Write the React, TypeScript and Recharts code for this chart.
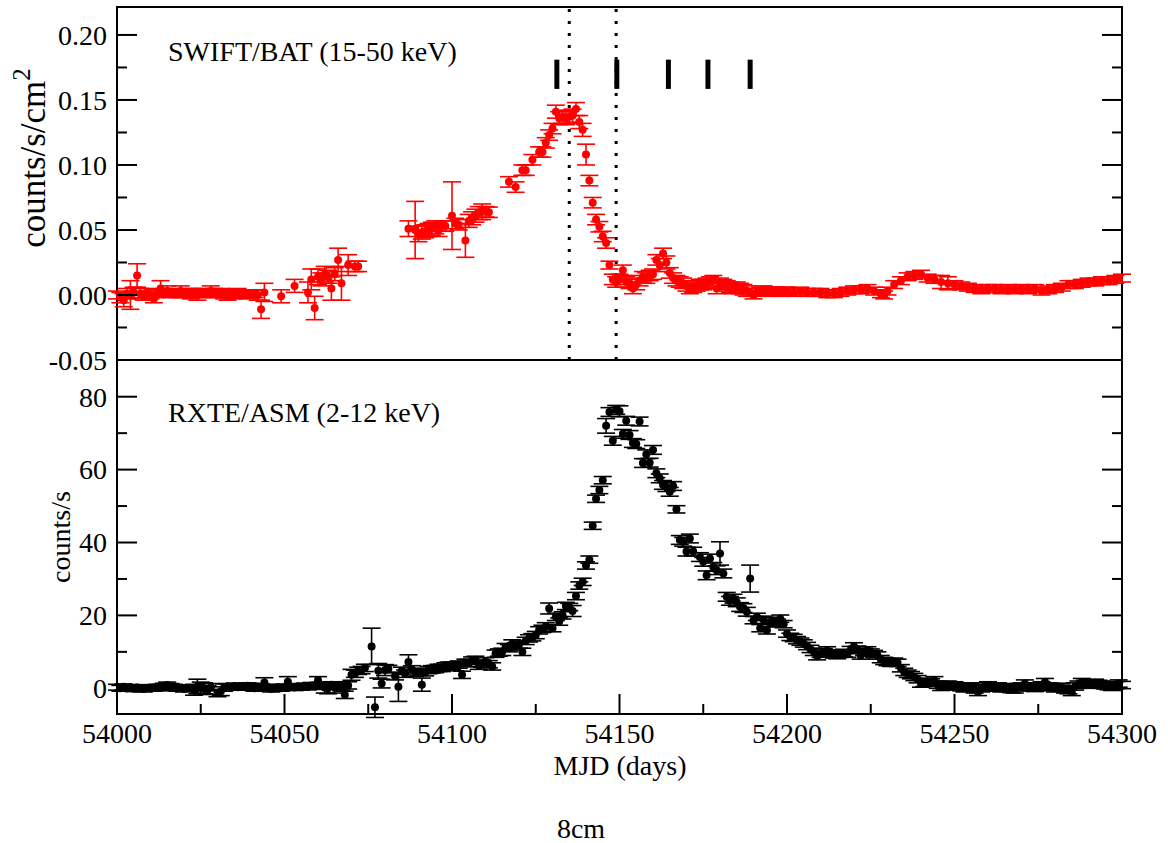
import React from 'react';
import { ScatterChart, Scatter, XAxis, YAxis, ErrorBar, ReferenceLine, ReferenceArea } from 'recharts';

type Pt = [number, number, number];

// ---------- SWIFT/BAT (15-50 keV): [MJD, counts/s/cm^2, error] ----------
const batQuiet: Pt[] = [
  [54000, 0.0, 0.003], [54001, -0.002, 0.004], [54002, -0.004, 0.005], [54003, 0.001, 0.004],
  [54004, 0.0, 0.011], [54005, 0.002, 0.004], [54006, 0.015, 0.009], [54007, 0.001, 0.004],
  [54008, -0.001, 0.003], [54009, 0.002, 0.003], [54010, 0.0, 0.003], [54011, -0.003, 0.003],
  [54012, 0.001, 0.003], [54013, 0.005, 0.006], [54014, 0.002, 0.003], [54015, 0.003, 0.004],
  [54016, 0.001, 0.003], [54017, 0.002, 0.003], [54018, 0.001, 0.003], [54019, 0.003, 0.004],
  [54020, 0.001, 0.003], [54021, 0.002, 0.003], [54022, 0.0, 0.003], [54023, 0.002, 0.003],
  [54024, 0.0, 0.004], [54025, 0.001, 0.003], [54026, 0.002, 0.003], [54027, 0.001, 0.003],
  [54028, 0.003, 0.004], [54029, 0.002, 0.003], [54030, 0.001, 0.003], [54031, 0.002, 0.003],
  [54032, 0.0, 0.003], [54033, -0.001, 0.003], [54034, 0.001, 0.003], [54035, 0.0, 0.003],
  [54036, 0.002, 0.003], [54037, 0.001, 0.003], [54038, 0.001, 0.003], [54039, 0.0, 0.003],
  [54040, 0.001, 0.003], [54041, 0.001, 0.003], [54042, 0.0, 0.004], [54043, -0.011, 0.007],
  [54044, 0.002, 0.007],
];
const batPreFlare: Pt[] = [
  [54049, -0.001, 0.005], [54053, 0.007, 0.005], [54057, 0.002, 0.008], [54058, 0.012, 0.008],
  [54059, -0.010, 0.009], [54060, 0.014, 0.006], [54061, 0.012, 0.005], [54062, 0.016, 0.006],
  [54063, 0.014, 0.005], [54064, 0.005, 0.009], [54065, 0.016, 0.005], [54066, 0.027, 0.009],
  [54067, 0.009, 0.013], [54069, 0.023, 0.008], [54071, 0.022, 0.004], [54072, 0.022, 0.004],
];
const batPlateau: Pt[] = [
  [54087, 0.051, 0.006], [54089, 0.050, 0.022], [54090, 0.047, 0.006], [54091, 0.048, 0.005],
  [54092, 0.049, 0.005], [54093, 0.050, 0.005], [54094, 0.051, 0.005], [54095, 0.052, 0.005],
  [54096, 0.050, 0.005], [54097, 0.053, 0.004], [54098, 0.053, 0.004], [54100, 0.061, 0.026],
  [54101, 0.055, 0.004], [54102, 0.054, 0.004], [54104, 0.042, 0.013], [54105, 0.057, 0.005],
  [54106, 0.059, 0.005], [54107, 0.061, 0.005], [54108, 0.063, 0.005], [54109, 0.064, 0.006],
  [54110, 0.064, 0.004], [54111, 0.0636, 0.004],
];
const batFlare: Pt[] = [
  [54117, 0.087, 0.004], [54119, 0.083, 0.004], [54121, 0.096, 0.004], [54122, 0.096, 0.004],
  [54124, 0.104, 0.004], [54126, 0.110, 0.004], [54127, 0.110, 0.004], [54128, 0.117, 0.004],
  [54129, 0.123, 0.004], [54130, 0.128, 0.004], [54131, 0.141, 0.005], [54132, 0.136, 0.005],
  [54133, 0.137, 0.005], [54134, 0.136, 0.005], [54135, 0.137, 0.005], [54136, 0.138, 0.005],
  [54137, 0.143, 0.005], [54138, 0.133, 0.005], [54139, 0.127, 0.005], [54140, 0.108, 0.008],
  [54141, 0.088, 0.004], [54142, 0.071, 0.004], [54143, 0.058, 0.004], [54144, 0.0525, 0.004],
  [54145, 0.045, 0.004], [54146, 0.040, 0.004], [54147, 0.023, 0.003], [54148, 0.012, 0.004],
  [54149, 0.010, 0.004], [54150, 0.012, 0.004], [54151, 0.019, 0.004], [54152, 0.010, 0.004],
  [54153, 0.009, 0.004], [54154, 0.005, 0.004], [54155, 0.008, 0.004], [54156, 0.011, 0.004],
  [54157, 0.014, 0.004], [54158, 0.013, 0.004], [54159, 0.015, 0.004], [54160, 0.016, 0.004],
  [54161, 0.027, 0.004], [54162, 0.023, 0.005], [54163, 0.032, 0.004], [54164, 0.025, 0.005],
  [54165, 0.017, 0.004],
];
const batTail: Pt[] = [
  [54166, 0.013, 0.004], [54167, 0.011, 0.004], [54168, 0.010, 0.004], [54169, 0.009, 0.004],
  [54170, 0.007, 0.004], [54171, 0.005, 0.004], [54172, 0.006, 0.004], [54173, 0.007, 0.004],
  [54174, 0.008, 0.004], [54175, 0.008, 0.004], [54176, 0.009, 0.004], [54177, 0.010, 0.004],
  [54178, 0.011, 0.004], [54179, 0.005, 0.004], [54180, 0.009, 0.004], [54181, 0.008, 0.004],
  [54182, 0.007, 0.004], [54183, 0.006, 0.004], [54184, 0.005, 0.004], [54185, 0.006, 0.004],
  [54186, 0.005, 0.004], [54187, 0.004, 0.004], [54188, 0.003, 0.004], [54189, 0.002, 0.003],
  [54190, 0.0, 0.003], [54191, 0.002, 0.003], [54192, 0.003, 0.003], [54193, 0.004, 0.003],
  [54194, 0.003, 0.003], [54195, 0.003, 0.003], [54196, 0.002, 0.003], [54197, 0.003, 0.003],
  [54198, 0.002, 0.003], [54199, 0.003, 0.003], [54200, 0.003, 0.003], [54202, 0.002, 0.003],
  [54204, 0.003, 0.003], [54206, 0.002, 0.003], [54208, 0.002, 0.003], [54210, 0.002, 0.003],
  [54212, 0.001, 0.003], [54214, 0.001, 0.003], [54216, 0.002, 0.003], [54218, 0.003, 0.003],
  [54220, 0.004, 0.003], [54222, 0.004, 0.003], [54224, 0.005, 0.003], [54226, 0.003, 0.003],
  [54228, 0.001, 0.003], [54229, 0.0, 0.003], [54230, 0.003, 0.003], [54232, 0.008, 0.003],
  [54234, 0.011, 0.003], [54236, 0.014, 0.003], [54238, 0.015, 0.003], [54240, 0.016, 0.003],
  [54242, 0.013, 0.003], [54244, 0.012, 0.003], [54246, 0.010, 0.005], [54248, 0.009, 0.005],
  [54250, 0.008, 0.003], [54252, 0.007, 0.003], [54254, 0.006, 0.003], [54256, 0.005, 0.003],
  [54258, 0.004, 0.003], [54260, 0.005, 0.003], [54262, 0.005, 0.003], [54264, 0.004, 0.003],
  [54266, 0.005, 0.003], [54268, 0.004, 0.003], [54270, 0.005, 0.003], [54272, 0.004, 0.003],
  [54274, 0.005, 0.003], [54276, 0.003, 0.003], [54278, 0.004, 0.003], [54280, 0.005, 0.003],
  [54282, 0.006, 0.003], [54284, 0.008, 0.003], [54286, 0.008, 0.003], [54288, 0.009, 0.003],
  [54290, 0.010, 0.003], [54292, 0.010, 0.003], [54294, 0.011, 0.003], [54296, 0.011, 0.003],
  [54298, 0.012, 0.003], [54300, 0.013, 0.003],
];

// ---------- RXTE/ASM (2-12 keV): [MJD, counts/s, error] ----------
const asmQuiet: Pt[] = [
  [54000, 0.3, 0.8], [54001, 0.0, 0.8], [54002, 0.4, 0.8], [54003, 0.0, 0.8], [54004, 0.2, 0.8],
  [54005, -0.1, 0.8], [54006, 0.2, 0.8], [54007, 0.0, 0.8], [54008, -0.2, 0.8], [54009, 0.1, 0.8],
  [54010, 0.0, 0.8], [54011, 0.2, 0.8], [54012, 0.3, 0.8], [54013, 0.1, 0.8], [54014, 0.6, 0.8],
  [54015, 0.9, 0.8], [54016, 0.5, 0.8], [54017, 0.3, 0.8], [54018, 0.0, 0.8], [54019, 0.1, 0.8],
  [54020, -0.2, 0.8], [54021, 0.1, 0.8], [54022, 0.0, 0.8], [54023, -0.4, 1.5], [54024, 0.5, 2.0],
  [54025, 0.2, 1.5], [54026, 0.0, 1.5], [54027, -0.5, 1.2], [54028, 0.3, 1.0], [54030, -1.3, 1.0],
  [54031, -0.8, 1.2], [54032, 0.2, 1.0], [54033, 0.5, 0.8], [54034, 0.4, 0.8], [54035, 0.6, 0.8],
  [54036, 0.3, 0.8], [54037, 0.4, 0.8], [54038, 0.6, 0.8], [54039, 0.7, 0.8], [54040, 0.3, 0.8],
  [54041, 0.0, 0.8], [54042, 0.5, 0.8], [54043, 0.4, 0.8], [54044, 1.6, 1.3], [54045, 0.2, 0.8],
  [54046, -0.2, 0.8], [54047, 0.0, 0.8], [54048, 0.3, 0.8], [54049, 0.0, 0.8], [54050, 0.3, 0.8],
  [54051, 1.8, 1.4], [54052, 0.4, 0.8], [54053, 0.2, 0.8], [54054, 0.5, 0.8], [54055, 0.3, 0.8],
  [54056, 0.6, 0.8], [54057, 0.4, 0.8], [54058, 0.8, 0.8], [54059, 0.5, 0.8], [54060, 2.2, 1.0],
  [54061, 0.9, 0.8], [54062, 0.2, 1.5], [54063, 0.0, 1.5], [54064, 1.0, 0.8], [54065, 0.2, 1.5],
  [54066, 0.6, 0.8], [54067, 0.5, 1.2], [54068, -1.8, 1.0], [54069, 0.8, 1.0],
];
const asmRise: Pt[] = [
  [54070, 3.7, 1.5], [54071, 4.0, 1.0], [54072, 4.8, 1.0], [54073, 5.0, 1.0], [54074, 5.6, 1.0],
  [54076, 11.5, 5.0], [54077, -5.2, 2.8], [54078, 4.8, 2.0], [54079, 1.3, 1.2], [54080, 5.0, 1.5],
  [54081, 5.3, 1.0], [54083, 3.3, 1.0], [54084, 0.4, 4.0], [54085, 4.8, 1.0], [54086, 4.0, 1.0],
  [54087, 7.2, 2.0], [54088, 5.2, 1.0], [54089, 4.2, 1.0], [54090, 4.5, 1.0], [54091, 1.0, 1.8],
  [54092, 4.4, 1.0], [54093, 5.0, 1.0], [54094, 5.2, 1.0], [54095, 5.3, 1.0], [54096, 5.6, 1.0],
  [54097, 5.6, 1.0], [54098, 6.0, 1.0], [54099, 6.2, 1.0], [54100, 6.2, 1.0], [54101, 5.8, 1.0],
  [54102, 6.5, 1.0], [54103, 3.7, 1.0], [54104, 7.0, 1.0], [54105, 6.9, 1.0], [54106, 7.6, 1.0],
  [54107, 7.8, 1.0], [54108, 6.2, 1.0], [54109, 6.8, 1.0], [54110, 7.4, 1.0], [54111, 6.6, 1.0],
  [54112, 6.0, 1.0], [54113, 9.5, 1.0], [54114, 9.8, 1.0], [54115, 10.0, 1.0], [54116, 11.3, 1.0],
  [54117, 11.0, 1.0], [54118, 12.3, 1.0], [54119, 11.5, 1.0], [54120, 12.0, 1.0], [54121, 10.0, 1.0],
  [54122, 13.0, 1.0], [54123, 13.7, 1.0], [54124, 14.0, 1.0], [54125, 14.6, 1.0], [54126, 15.9, 1.0],
  [54127, 16.3, 1.0], [54128, 17.0, 1.0], [54129, 21.9, 1.5], [54130, 16.5, 1.0], [54131, 19.6, 1.0],
  [54132, 18.3, 1.0], [54133, 20.0, 1.0], [54134, 22.6, 1.0], [54135, 22.3, 1.0], [54136, 21.2, 1.5],
  [54137, 25.3, 1.0], [54138, 28.2, 1.0], [54139, 29.2, 1.0], [54140, 33.7, 1.0], [54141, 35.3, 1.0],
  [54142, 44.6, 1.0], [54143, 52.0, 1.0], [54144, 54.4, 1.0], [54145, 57.1, 1.0],
];
const asmPeak: Pt[] = [
  [54146, 72.0, 2.0], [54147, 75.8, 1.2], [54148, 67.9, 1.2], [54149, 76.4, 1.2], [54150, 76.0, 1.5],
  [54151, 69.8, 1.2], [54152, 73.4, 1.2], [54153, 69.5, 1.2], [54154, 67.3, 1.2], [54155, 67.0, 1.2],
  [54156, 73.2, 1.2], [54157, 61.8, 1.2], [54158, 64.2, 1.2], [54159, 61.9, 1.2], [54160, 65.4, 1.2],
  [54161, 59.0, 1.2], [54162, 57.6, 1.2], [54163, 55.8, 1.2], [54164, 55.2, 1.2], [54165, 53.9, 1.2],
  [54166, 55.5, 1.2], [54167, 49.1, 1.0], [54168, 40.7, 1.2], [54169, 40.2, 1.2], [54170, 37.5, 1.2],
  [54171, 41.1, 1.2], [54172, 37.5, 1.2], [54174, 36.0, 1.2], [54175, 34.7, 1.2], [54176, 31.0, 1.2],
  [54177, 35.6, 1.2], [54178, 33.3, 1.2], [54179, 32.4, 1.2], [54180, 37.0, 3.2], [54181, 31.5, 1.2],
  [54182, 25.1, 1.2], [54183, 24.0, 1.2], [54184, 24.6, 1.2], [54185, 23.6, 1.2], [54186, 22.3, 1.2],
  [54187, 22.0, 1.2], [54188, 21.0, 1.2], [54189, 30.1, 3.7],
];
const asmDecay: Pt[] = [
  [54190, 18.7, 1.0], [54191, 19.6, 1.0], [54192, 16.5, 1.0], [54193, 18.8, 1.0], [54194, 15.9, 1.0],
  [54195, 17.9, 1.0], [54196, 18.5, 1.0], [54197, 18.0, 1.0], [54198, 19.1, 1.0], [54199, 17.6, 1.0],
  [54200, 15.0, 1.0], [54201, 14.1, 1.0], [54202, 13.8, 1.0], [54203, 13.2, 1.0], [54204, 12.8, 1.0],
  [54205, 12.3, 1.0], [54206, 11.6, 1.0], [54207, 10.8, 1.0], [54208, 10.0, 1.0], [54209, 8.8, 1.0],
  [54210, 9.5, 1.0], [54211, 9.9, 1.0], [54212, 10.4, 1.0], [54213, 9.6, 1.0], [54214, 9.3, 1.0],
  [54215, 9.1, 1.0], [54216, 9.5, 1.0], [54217, 9.7, 1.0], [54218, 9.5, 1.0], [54219, 10.5, 1.0],
  [54220, 11.5, 1.0], [54221, 10.6, 1.0], [54222, 9.0, 1.0], [54223, 10.0, 1.0], [54224, 10.4, 1.0],
  [54225, 9.8, 1.0], [54226, 9.4, 1.0], [54227, 9.0, 1.0], [54228, 8.0, 1.0], [54229, 7.5, 1.0],
  [54230, 7.2, 1.0], [54231, 7.0, 1.0], [54232, 7.3, 1.0], [54233, 7.0, 1.0], [54234, 5.5, 1.0],
  [54235, 4.5, 1.0], [54236, 4.0, 1.0], [54237, 3.6, 1.0], [54238, 3.1, 1.0], [54239, 2.5, 1.0],
  [54240, 1.3, 1.0], [54241, 1.5, 1.0], [54242, 1.8, 1.0], [54243, 1.6, 1.0], [54244, 2.2, 1.0],
  [54245, 1.0, 1.0], [54246, 0.4, 1.0], [54247, 0.8, 1.0], [54248, 1.0, 1.0], [54249, 0.6, 1.0],
  [54250, 0.8, 1.0], [54251, 0.5, 1.0], [54252, 0.3, 1.0], [54253, 0.0, 1.0], [54254, 0.2, 1.0],
  [54255, 0.5, 1.0], [54256, -0.3, 1.0], [54257, -1.0, 1.0], [54258, 0.0, 1.0], [54259, 0.5, 1.0],
  [54260, 0.8, 1.0], [54261, 0.3, 1.0], [54262, 0.2, 1.0], [54263, 0.5, 1.0], [54264, 0.0, 1.0],
  [54265, 0.3, 1.0], [54266, 0.1, 1.0], [54267, -0.2, 1.0], [54268, -0.3, 1.0], [54269, 0.3, 1.0],
  [54270, 0.5, 1.0], [54271, 1.3, 1.0], [54272, 0.3, 1.0], [54273, 0.4, 1.0], [54274, 0.1, 1.0],
  [54275, 0.5, 1.0], [54276, 0.8, 1.0], [54277, 1.7, 1.0], [54278, 0.5, 1.0], [54279, 0.3, 1.0],
  [54280, 0.0, 1.0], [54281, 0.4, 1.0], [54282, 0.2, 1.0], [54283, -0.3, 1.0], [54284, -0.5, 1.0],
  [54285, -1.0, 1.0], [54286, 0.5, 1.0], [54287, 1.0, 1.0], [54288, 1.7, 1.0], [54289, 1.2, 1.0],
  [54290, 1.0, 1.0], [54291, 1.3, 1.0], [54292, 1.5, 1.0], [54293, 1.2, 1.0], [54294, 1.0, 1.0],
  [54295, 0.8, 1.0], [54296, 0.6, 1.0], [54297, 0.4, 1.0], [54298, 0.8, 1.0], [54299, 1.3, 1.0],
  [54300, 0.9, 1.0],
];

// ---------- axes / annotations ----------
const mjdDomain: [number, number] = [54000, 54300];
const mjdTicks = [54000, 54025, 54050, 54075, 54100, 54125, 54150, 54175, 54200, 54225, 54250, 54275, 54300];
const mjdLabelled = [54000, 54050, 54100, 54150, 54200, 54250, 54300];
const batDomain: [number, number] = [-0.05, 0.2215];
const batTicks = [-0.05, -0.025, 0, 0.025, 0.05, 0.075, 0.1, 0.125, 0.15, 0.175, 0.2];
const batLabelled = [-0.05, 0, 0.05, 0.1, 0.15, 0.2];
const asmDomain: [number, number] = [-7.05, 90.07];
const asmTicks = [0, 10, 20, 30, 40, 50, 60, 70, 80];
const asmLabelled = [0, 20, 40, 60, 80];
const dottedMjd = [54135, 54149];
const markerMjd = [54131.3, 54149.2, 54164.6, 54176.4, 54189];
const markerRange = [0.1585, 0.181];

const FONT = '"Liberation Serif", "Times New Roman", Times, serif';
const FS = 28;

const toRows = (parts: Pt[][]) => parts.flat().map(([x, y, e]) => ({ x, y, e }));
const batRows = toRows([batQuiet, batPreFlare, batPlateau, batFlare, batTail]);
const asmRows = toRows([asmQuiet, asmRise, asmPeak, asmDecay]);

const has = (list: number[], v: number) => list.some((t) => Math.abs(t - v) < 1e-9);

const makeYTick = (side: 'left' | 'right', labelled: number[], fmt: (v: number) => string) => (props: any) => {
  const { x, y, payload } = props;
  const v = payload.value as number;
  const major = has(labelled, v);
  const len = major ? 20 : 10;
  const dir = side === 'left' ? 1 : -1;
  return (
    <g>
      <line x1={x} y1={y} x2={x + dir * len} y2={y} stroke="#000" strokeWidth={2} />
      {side === 'left' && major ? (
        <text x={x - 10} y={y} dy="0.35em" textAnchor="end" fontFamily={FONT} fontSize={FS} fill="#000">
          {fmt(v)}
        </text>
      ) : null}
    </g>
  );
};

const XTick = (props: any) => {
  const { x, y, payload } = props;
  const v = payload.value as number;
  const major = has(mjdLabelled, v);
  const len = major ? 20 : 10;
  return (
    <g>
      <line x1={x} y1={y} x2={x} y2={y - len} stroke="#000" strokeWidth={2} />
      {major ? (
        <text x={x} y={y + 29} textAnchor="middle" fontFamily={FONT} fontSize={FS} fill="#000">
          {v}
        </text>
      ) : null}
    </g>
  );
};

const redDot = (p: any) => <circle cx={p.cx} cy={p.cy} r={4} fill="#ff0000" />;
const blackDot = (p: any) => <circle cx={p.cx} cy={p.cy} r={4} fill="#000" />;

export default function App() {
  return (
    <div style={{ position: 'absolute', left: 0, top: 0, width: 1168, height: 843, background: '#fff' }}>
      <div style={{ position: 'absolute', left: 0, top: 0 }}>
        <ScatterChart width={1168} height={385} margin={{ top: 7, right: 36, bottom: 25, left: 0 }}>
          <XAxis type="number" dataKey="x" domain={mjdDomain} allowDataOverflow hide />
          <YAxis
            yAxisId="l" type="number" dataKey="y" domain={batDomain} allowDataOverflow ticks={batTicks}
            interval={0} width={117} tickSize={0} tickMargin={0} axisLine={false} tickLine={false}
            tick={makeYTick('left', batLabelled, (v) => v.toFixed(2))}
          />
          <YAxis
            yAxisId="r" orientation="right" type="number" dataKey="y" domain={batDomain} allowDataOverflow
            ticks={batTicks} interval={0} width={10} tickSize={0} tickMargin={0} axisLine={false} tickLine={false}
            tick={makeYTick('right', batLabelled, (v) => v.toFixed(2))}
          />
          <ReferenceArea yAxisId="l" x1={mjdDomain[0]} x2={mjdDomain[1]} y1={batDomain[0]} y2={batDomain[1]}
            fill="none" fillOpacity={0} stroke="#000" strokeWidth={2} />
          {dottedMjd.map((m) => (
            <ReferenceLine key={m} yAxisId="l" x={m} stroke="#000" strokeWidth={3} strokeDasharray="3 9" />
          ))}
          {markerMjd.map((m) => (
            <ReferenceLine key={'m' + m} yAxisId="l" stroke="#000" strokeWidth={5}
              segment={[{ x: m, y: markerRange[0] }, { x: m, y: markerRange[1] }]} />
          ))}
          <Scatter yAxisId="l" data={batRows} fill="#ff0000" shape={redDot} isAnimationActive={false}>
            <ErrorBar dataKey="e" direction="y" width={9} stroke="#ff0000" strokeWidth={1.6} isAnimationActive={false} />
          </Scatter>
        </ScatterChart>
      </div>
      <div style={{ position: 'absolute', left: 0, top: 350 }}>
        <ScatterChart width={1168} height={450} margin={{ top: 10, right: 36, bottom: 26, left: 0 }}>
          <XAxis
            type="number" dataKey="x" domain={mjdDomain} allowDataOverflow ticks={mjdTicks} interval={0}
            height={60} tickSize={0} tickMargin={0} axisLine={false} tickLine={false} tick={XTick}
          />
          <YAxis
            yAxisId="l" type="number" dataKey="y" domain={asmDomain} allowDataOverflow ticks={asmTicks}
            interval={0} width={117} tickSize={0} tickMargin={0} axisLine={false} tickLine={false}
            tick={makeYTick('left', asmLabelled, (v) => String(v))}
          />
          <YAxis
            yAxisId="r" orientation="right" type="number" dataKey="y" domain={asmDomain} allowDataOverflow
            ticks={asmTicks} interval={0} width={10} tickSize={0} tickMargin={0} axisLine={false} tickLine={false}
            tick={makeYTick('right', asmLabelled, (v) => String(v))}
          />
          <ReferenceArea yAxisId="l" x1={mjdDomain[0]} x2={mjdDomain[1]} y1={asmDomain[0]} y2={asmDomain[1]}
            fill="none" fillOpacity={0} stroke="#000" strokeWidth={2} />
          <Scatter yAxisId="l" data={asmRows} fill="#000" shape={blackDot} isAnimationActive={false}>
            <ErrorBar dataKey="e" direction="y" width={9} stroke="#000" strokeWidth={1.6} isAnimationActive={false} />
          </Scatter>
        </ScatterChart>
      </div>
      <svg width={1168} height={843} style={{ position: 'absolute', left: 0, top: 0, pointerEvents: 'none' }}>
        <g fontFamily={FONT} fontSize={FS} fill="#000">
          <text x={168} y={61}>SWIFT/BAT (15-50 keV)</text>
          <text x={168} y={422}>RXTE/ASM (2-12 keV)</text>
          <text x={620} y={775} textAnchor="middle">MJD (days)</text>
          <text x={581} y={838} textAnchor="middle">8cm</text>
          <text transform="translate(45,158) rotate(-90)" textAnchor="middle" fontSize={35}>
            counts/s/cm<tspan dy={-15} fontSize={25}>2</tspan>
          </text>
          <text transform="translate(70,537) rotate(-90)" textAnchor="middle">counts/s</text>
        </g>
      </svg>
    </div>
  );
}
